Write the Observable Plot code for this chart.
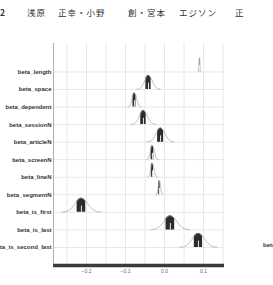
<!DOCTYPE html>
<html>
<head>
<meta charset="utf-8">
<script src="https://cdn.jsdelivr.net/npm/d3@7"></script>
<script src="https://cdn.jsdelivr.net/npm/@observablehq/plot@0.6"></script>
<style>
  html, body { margin: 0; padding: 0; background: #fff; }
  #wrap { position: relative; width: 273px; height: 285px; overflow: hidden; }
  #wrap svg { position: absolute; left: 0; top: 0; overflow: visible; }
  .hd { position: absolute; top: 6px; font-family: "Noto Sans CJK JP", sans-serif; font-size: 8.5px; color: #333; white-space: nowrap; letter-spacing: 1px; }
  .cut { position: absolute; left: 263px; top: 242px; font-family: "Liberation Sans", Arial, sans-serif; font-weight: bold; font-size: 6px; color: #333; }
</style>
</head>
<body>
<div id="wrap"></div>
<script>
// Parameters, top to bottom
const names = ["beta_length", "beta_space", "beta_dependent", "beta_sessionN", "beta_articleN",
  "beta_screenN", "beta_lineN", "beta_segmentN", "beta_is_first", "beta_is_last", "beta_is_second_last"];
// posterior centres
const means = [0.090, -0.041, -0.077, -0.054, -0.010, -0.031, -0.031, -0.013, -0.213, 0.015, 0.087];
const sds = [0.0009, 0.0099, 0.0057, 0.0103, 0.0114, 0.0051, 0.0040, 0.0028, 0.0164, 0.0164, 0.0157];
const xTicks = [-0.2, -0.1, 0.0, 0.1];
const xGrid = [-0.25, -0.2, -0.15, -0.1, -0.05, 0.0, 0.05, 0.1, 0.15];
const headerParts = [["2", 0], ["浅原", 27], ["正幸・小野", 58], ["創・宮本", 128], ["エジソン", 179], ["正", 235]];

const innerZ = 0.674;   // 50% interval
const peak = 0.8;       // ridge height in row units
const n = names.length;

const params = names.map((name, i) => ({name, mean: means[i], sd: sds[i], base: n - 1 - i}));
const outer = [], inner = [];
for (const p of params) {
  for (let k = -60; k <= 60; k++) {
    const z = k / 20;
    const pt = {name: p.name, x: p.mean + z * p.sd, base: p.base, y: p.base + peak * Math.exp(-z * z / 2)};
    outer.push(pt);
    if (Math.abs(z) <= innerZ + 1e-9) inner.push(pt);
  }
  for (const z of [-innerZ, innerZ]) {
    inner.push({name: p.name, x: p.mean + z * p.sd, base: p.base, y: p.base + peak * Math.exp(-z * z / 2)});
  }
}
inner.sort((a, b) => a.name < b.name ? -1 : a.name > b.name ? 1 : a.x - b.x);

const xDom = [-0.2846, 0.1538];
const yDom = [-1.03, 11.62];
const rows = params.map(p => p.base);

const chart = Plot.plot({
  width: 273, height: 285,
  marginTop: 43, marginBottom: 20, marginLeft: 53, marginRight: 49,
  x: {domain: xDom},
  y: {domain: yDom},
  style: {fontFamily: "'Liberation Sans', Arial, sans-serif"},
  marks: [
    Plot.ruleX(xGrid, {stroke: "#e2e2e2", strokeWidth: 0.8}),
    Plot.ruleY(rows, {stroke: "#e2e2e2", strokeWidth: 0.8}),
    Plot.ruleX([xDom[0]], {stroke: "#9a9a9a", strokeWidth: 0.8}),
    Plot.areaY(inner, {x: "x", y1: "base", y2: "y", z: "name", fill: "#2b2b2b"}),
    Plot.line(outer, {x: "x", y: "y", z: "name", stroke: "#9a9a9a", strokeWidth: 0.7}),
    Plot.ruleX(params, {x: "mean", y1: "base", y2: d => d.base + peak * 0.45, stroke: "white", strokeWidth: 0.9}),
    Plot.ruleY([yDom[0]], {stroke: "#3a3a3a", strokeWidth: 3.5}),
    Plot.axisX({ticks: xTicks, tickFormat: d3.format(".1f"), tickSize: 0, tickPadding: 4, fontSize: 5, fill: "#666"}),
    Plot.axisY({ticks: rows, tickFormat: i => names[n - 1 - i], tickSize: 0, tickPadding: 2,
      fontSize: 6, fontWeight: "bold", fill: "#333"})
  ]
});

const wrap = document.getElementById("wrap");
wrap.appendChild(chart);
for (const [t, x] of headerParts) {
  const s = document.createElement("div");
  s.className = "hd";
  s.style.left = x + "px";
  if (t === "2") s.style.fontWeight = "bold";
  s.textContent = t;
  wrap.appendChild(s);
}
const cut = document.createElement("div");
cut.className = "cut";
cut.textContent = "beta";
wrap.appendChild(cut);
</script>
</body>
</html>
